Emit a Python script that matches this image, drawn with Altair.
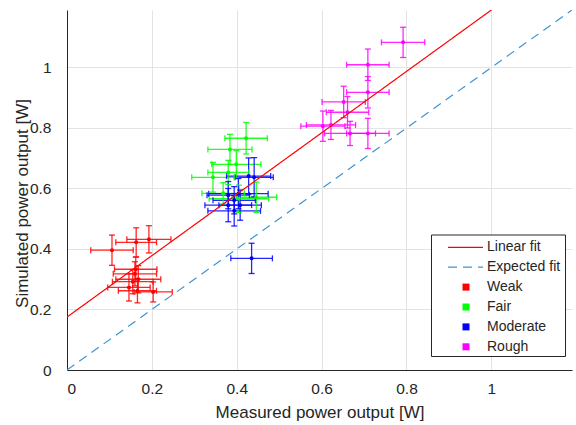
import altair as alt
import pandas as pd

# ---- data ----
weak_x = [0.106, 0.163, 0.193, 0.162, 0.160, 0.168, 0.155, 0.146, 0.166, 0.203]
weak_y = [0.396, 0.422, 0.432, 0.333, 0.318, 0.300, 0.292, 0.273, 0.262, 0.258]
weak_xerr = [0.050, 0.048, 0.052, 0.050, 0.051, 0.053, 0.048, 0.050, 0.045, 0.045]
weak_yerr = [0.050, 0.048, 0.045, 0.040, 0.040, 0.045, 0.040, 0.045, 0.040, 0.033]

fair_x = [0.422, 0.384, 0.344, 0.399, 0.380, 0.368, 0.446, 0.405]
fair_y = [0.766, 0.729, 0.637, 0.680, 0.653, 0.584, 0.571, 0.566]
fair_xerr = [0.050, 0.052, 0.050, 0.058, 0.048, 0.050, 0.048, 0.070]
fair_yerr = [0.052, 0.050, 0.049, 0.045, 0.040, 0.035, 0.050, 0.045]

mod_x = [0.435, 0.428, 0.441, 0.404, 0.380, 0.394, 0.380, 0.408, 0.394]
mod_y = [0.369, 0.641, 0.637, 0.583, 0.578, 0.561, 0.545, 0.545, 0.526]
mod_xerr = [0.049, 0.052, 0.045, 0.070, 0.050, 0.050, 0.055, 0.050, 0.062]
mod_yerr = [0.050, 0.060, 0.065, 0.050, 0.045, 0.045, 0.055, 0.050, 0.050]

rough_x = [0.792, 0.709, 0.709, 0.652, 0.661, 0.603, 0.622, 0.667, 0.709]
rough_y = [1.083, 1.009, 0.918, 0.886, 0.852, 0.806, 0.810, 0.782, 0.782]
rough_xerr = [0.051, 0.050, 0.050, 0.051, 0.050, 0.052, 0.058, 0.060, 0.050]
rough_yerr = [0.050, 0.052, 0.052, 0.052, 0.052, 0.050, 0.048, 0.040, 0.050]

categories = ["Weak", "Fair", "Moderate", "Rough"]
cat_colors = ["#ff0000", "#00ff00", "#0000ff", "#ff00ff"]

fit_names = ["Linear fit", "Expected fit"]
fit_colors = ["#ff0000", "#3f94d2"]
fit_dashes = [[1, 0], [9, 6]]
fit_intercept = 0.175
fit_slope = 1.015
axis_max = 1.19

FONT = "Liberation Sans"
TEXT = "#262626"

# ---- tables ----
rows = []
for name, xs_, ys_, xes, yes in [
    ("Weak", weak_x, weak_y, weak_xerr, weak_yerr),
    ("Fair", fair_x, fair_y, fair_xerr, fair_yerr),
    ("Moderate", mod_x, mod_y, mod_xerr, mod_yerr),
    ("Rough", rough_x, rough_y, rough_xerr, rough_yerr),
]:
    for x, y, xe, ye in zip(xs_, ys_, xes, yes):
        rows.append(dict(group=name, x=x, y=y, xlo=x - xe, xhi=x + xe,
                         ylo=y - ye, yhi=y + ye))
df = pd.DataFrame(rows)

line_rows = []
for xv in [0.0, axis_max]:
    line_rows.append(dict(fit="Linear fit", x=xv, y=fit_intercept + fit_slope * xv))
    line_rows.append(dict(fit="Expected fit", x=xv, y=xv))
lines_df = pd.DataFrame(line_rows)

# ---- scales / axes ----
ticks = [0, 0.2, 0.4, 0.6, 0.8, 1.0]
xs = alt.Scale(domain=[0, axis_max], nice=False, zero=False)
ys = alt.Scale(domain=[0, axis_max], nice=False, zero=False)
x_axis = alt.Axis(values=ticks, format="~g", labelPadding=11, grid=True,
                  titleY=42, titleBaseline="middle")
y_axis = alt.Axis(values=ticks, format="~g", labelPadding=16, grid=True,
                  titleX=-45, titleY=193, titleBaseline="middle")
cscale = alt.Scale(domain=categories, range=cat_colors)
col = alt.Color("group:N", scale=cscale, legend=None)

EB = dict(opacity=0.85)
base = alt.Chart(df)
hbar = base.mark_rule(strokeWidth=1.3, **EB).encode(
    x=alt.X("xlo:Q", scale=xs, axis=x_axis, title="Measured power output [W]"),
    x2="xhi:Q",
    y=alt.Y("y:Q", scale=ys, axis=y_axis, title="Simulated power output [W]"),
    color=col,
)
vbar = base.mark_rule(strokeWidth=1.3, **EB).encode(
    x="x:Q", y="ylo:Q", y2="yhi:Q", color=col)
cap_lo = base.mark_tick(orient="horizontal", size=6, thickness=1.3, **EB).encode(
    x="x:Q", y="ylo:Q", color=col)
cap_hi = base.mark_tick(orient="horizontal", size=6, thickness=1.3, **EB).encode(
    x="x:Q", y="yhi:Q", color=col)
cap_l = base.mark_tick(orient="vertical", size=6, thickness=1.3, **EB).encode(
    x="xlo:Q", y="y:Q", color=col)
cap_r = base.mark_tick(orient="vertical", size=6, thickness=1.3, **EB).encode(
    x="xhi:Q", y="y:Q", color=col)
dots = base.mark_circle(size=16, opacity=1).encode(x="x:Q", y="y:Q", color=col)

lines = alt.Chart(lines_df).mark_line(clip=True, strokeWidth=1.2).encode(
    x=alt.X("x:Q", scale=xs),
    y=alt.Y("y:Q", scale=ys),
    color=alt.Color("fit:N", scale=alt.Scale(domain=fit_names, range=fit_colors), legend=None),
    strokeDash=alt.StrokeDash("fit:N", scale=alt.Scale(domain=fit_names, range=fit_dashes), legend=None),
)

# ---- legend box (decoration, pixel placement inside plot area) ----
one = pd.DataFrame({"k": [0]})
legend_layers = [
    alt.Chart(one).mark_rect(fill="white", stroke=TEXT, strokeWidth=1).encode(
        x=alt.value(364.5), x2=alt.value(498.5), y=alt.value(225), y2=alt.value(346.5))
]
row_y = [237.3 + 19.9 * i for i in range(6)]
for i, (name, c, d) in enumerate(zip(fit_names, fit_colors, fit_dashes)):
    legend_layers.append(alt.Chart(one).mark_rule(color=c, strokeWidth=1.2, strokeDash=d).encode(
        x=alt.value(381), x2=alt.value(416), y=alt.value(row_y[i])))
    legend_layers.append(alt.Chart(one).mark_text(
        text=name, align="left", baseline="middle", font=FONT, fontSize=14, color=TEXT).encode(
        x=alt.value(420), y=alt.value(row_y[i])))
for j, (name, c) in enumerate(zip(categories, cat_colors)):
    yv = row_y[2 + j]
    legend_layers.append(alt.Chart(one).mark_square(size=49, color=c, opacity=1, filled=True).encode(
        x=alt.value(399), y=alt.value(yv)))
    legend_layers.append(alt.Chart(one).mark_text(
        text=name, align="left", baseline="middle", font=FONT, fontSize=14, color=TEXT).encode(
        x=alt.value(420), y=alt.value(yv)))

chart = alt.layer(
    hbar, vbar, cap_lo, cap_hi, cap_l, cap_r, dots, lines, *legend_layers
).resolve_scale(
    color="independent"
).properties(
    width=505, height=360,
    autosize=alt.AutoSizeParams(type="none"),
    padding={"left": 67, "top": 10, "right": 4, "bottom": 55},
).configure_view(stroke=None).configure_axis(
    labelFont=FONT, titleFont=FONT,
    labelFontSize=15.5, titleFontSize=17, titleFontWeight="normal",
    labelColor=TEXT, titleColor=TEXT,
    domainColor=TEXT, domainWidth=1, gridColor="#e3e3e3", ticks=False,
)

chart.save("out.html", embed_options={"renderer": "svg", "actions": False})
